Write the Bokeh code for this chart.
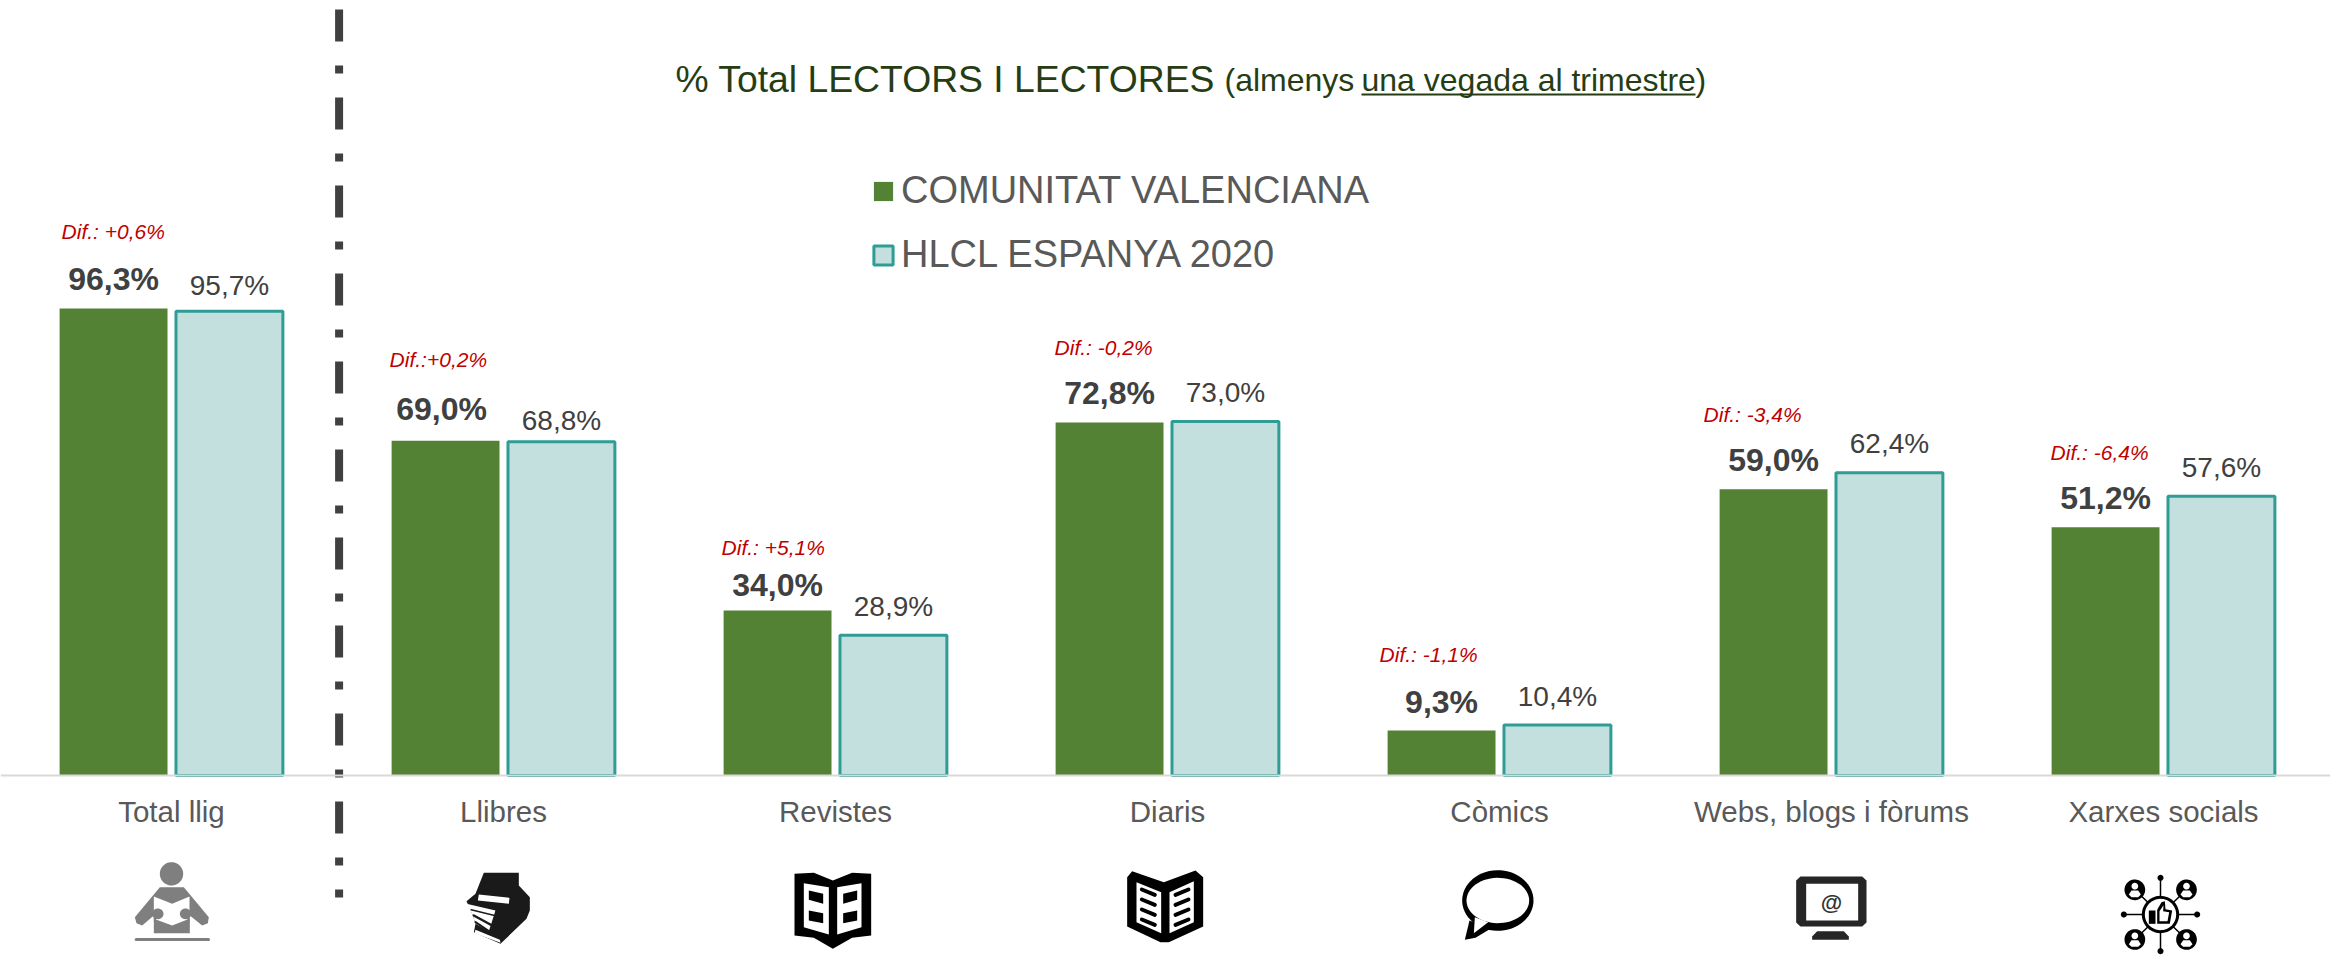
import numpy as np
from bokeh.core.properties import value
from bokeh.embed import file_html
from bokeh.models import ColumnDataSource, FixedTicker, Legend, LegendItem, Range1d
from bokeh.plotting import figure
from bokeh.resources import INLINE

categories = ["Total llig", "Llibres", "Revistes", "Diaris", "Còmics", "Webs, blogs i fòrums", "Xarxes socials"]
valencia = [96.3, 69.0, 34.0, 72.8, 9.3, 59.0, 51.2]
espanya = [95.7, 68.8, 28.9, 73.0, 10.4, 62.4, 57.6]
differences = ["Dif.: +0,6%", "Dif.:+0,2%", "Dif.: +5,1%", "Dif.: -0,2%", "Dif.: -1,1%", "Dif.: -3,4%", "Dif.: -6,4%"]
series_names = ["COMUNITAT VALENCIANA", "HLCL ESPANYA 2020"]
dif_lift = [76.5, 81.5, 63.5, 74.5, 75.5, 74.5, 74.5]
dif_shift = [0, -4, -4, -3, -10, -18, -3]
value_lift = [29, 32, 26, 29, 28, 29, 29]
value_shift = [0, -4, 0, 0, 0, 0, 0]
other_lift = [26, 21, 29, 29, 29, 29, 29]

FONT = value("Liberation Sans")
GREEN, PALE, TEAL = "#548235", "#C3E0DE", "#2F9C95"
GREY, DARK, TITLE = "#595959", "#404040", "#263D14"

PX_PER_CAT, PX_PER_UNIT, X0, Y0 = 332, 4.85, 5, 775
Xp = lambda px: (np.asarray(px, float) - X0) / PX_PER_CAT
Yp = lambda py: (Y0 - np.asarray(py, float)) / PX_PER_UNIT

p = figure(width=2330, height=958, output_backend="svg", toolbar_location=None,
           x_range=Range1d(float(Xp(0)), float(Xp(2330))), y_range=Range1d(float(Yp(958)), float(Yp(0))),
           min_border=0, outline_line_color=None, background_fill_color="white", border_fill_color="white")
p.grid.visible = False
p.yaxis.visible = False
ax = p.xaxis[0]
ax.fixed_location = 0
ax.ticker = FixedTicker(ticks=[i + 0.5 for i in range(7)])
ax.major_label_overrides = {i + 0.5: c for i, c in enumerate(categories)}
ax.major_tick_line_color = None
ax.minor_tick_line_color = None
ax.axis_line_color = "#D9D9D9"
ax.axis_line_width = 2
ax.major_label_text_font = "Liberation Sans"
ax.major_label_text_font_size = "29.5px"
ax.major_label_text_color = GREY
ax.major_label_standoff = 13

idx = np.arange(7) + 0.5
gx = idx - 0.1745
tx = idx + 0.1745
src = ColumnDataSource(dict(gx=gx, tx=tx, v=valencia, e=espanya, dif=differences,
                            lift=[-d for d in dif_lift], dshift=dif_shift,
                            vlift=[-d for d in value_lift], vshift=value_shift,
                            elift=[-d for d in other_lift],
                            vl=[f"{v:.1f}%".replace(".", ",") for v in valencia],
                            el=[f"{v:.1f}%".replace(".", ",") for v in espanya],
                            dx=gx - 0.1625 + 0.006))
r1 = p.vbar(x="gx", top="v", width=0.325, source=src, fill_color=GREEN, line_color=None)
r2 = p.vbar(x="tx", top="e", width=0.322, source=src, fill_color=PALE, line_color=TEAL, line_width=3)
p.text(x="gx", y="v", text="vl", source=src, x_offset="vshift", y_offset="vlift", text_align="center", text_baseline="alphabetic",
       text_font=FONT, text_font_size="32px", text_font_style="bold", text_color=DARK)
p.text(x="tx", y="e", text="el", source=src, y_offset="elift", text_align="center", text_baseline="alphabetic",
       text_font=FONT, text_font_size="28px", text_color=DARK)
p.text(x="dx", y="v", text="dif", source=src, x_offset="dshift", y_offset="lift", text_align="left", text_baseline="alphabetic",
       text_font=FONT, text_font_size="21px", text_font_style="italic", text_color="#C00000")

# separator
p.line(Xp([338.6, 338.6]), Yp([9, 897]), line_color=DARK, line_width=8, line_dash="32 24 8 24", line_cap="butt")

# title
def head(px, py, s, size):
    p.text(x=[float(Xp(px))], y=[float(Yp(py))], text=[s], text_font=FONT, text_font_size=size,
           text_baseline="alphabetic", text_color=TITLE)
head(675, 78, "% Total LECTORS I LECTORES", "37.3px")
head(1224, 79.5, "(almenys", "32px")
head(1361, 79.5, "una vegada al trimestre", "32px")
head(1695, 79.5, ")", "32px")
p.line(Xp([1361, 1695]), Yp([94, 94]), line_color=TITLE, line_width=2)

# legend
legend = Legend(items=[LegendItem(label=series_names[0], renderers=[r1]), LegendItem(label=series_names[1], renderers=[r2])],
                location=(871, 682), background_fill_alpha=0, border_line_color=None, padding=0, margin=0,
                glyph_width=24, glyph_height=24, label_standoff=6, spacing=21,
                label_text_font="Liberation Sans", label_text_font_size="38px", label_text_color=GREY)
p.add_layout(legend, "center")

# icons: outlines given in 1/3 px relative to an origin
def poly(ox, oy, pts, color):
    a = np.array(pts, float)
    p.patch(Xp(ox + a[:, 0] / 3), Yp(oy + a[:, 1] / 3), fill_color=color, line_color=None)

def oval(ox, oy, cx, cy, rx, ry, color):
    t = np.linspace(0, 2 * np.pi, 60)
    poly(ox, oy, np.c_[cx + rx * np.cos(t), cy + ry * np.sin(t)], color)

def stroke(ox, oy, a, b, w, color):
    p.line(Xp(ox + np.array([a[0], b[0]]) / 3), Yp(oy + np.array([a[1], b[1]]) / 3),
           line_color=color, line_width=w, line_cap="round")

# reader
o = (120, 850); c = "#7F7F7F"
oval(*o, 153, 70, 35, 35, c)
poly(*o, [(118,110),(190,110),(265,200),(262,218),(245,225),(208,195),(208,248),(100,248),(100,195),(65,225),(48,218),(43,200)], c)
poly(*o, [(100,138),(155,160),(207,138),(207,205),(155,225),(100,205)], "white")
oval(*o, 112, 190, 17, 16, c)
oval(*o, 195, 190, 17, 16, c)
poly(*o, [(100,190),(112,200),(100,215)], c)
poly(*o, [(207,190),(195,200),(207,215)], c)
stroke(*o, (47, 267), (264, 267), 3, c)

# books
o = (450, 860); c = "#1A1A1A"
poly(*o, [(100,37),(205,37),(205,75),(238,110),(238,150),(228,175),(150,250),(70,215),(75,190),(65,160),(48,122),(75,100)], c)
poly(*o, [(85,102),(177,112),(175,130),(82,120)], "white")
poly(*o, [(48,130),(135,150),(130,190),(115,212),(75,190),(65,160)], "white")
stroke(*o, (62, 148), (132, 165), 1.5, c)
stroke(*o, (70, 165), (125, 195), 2.5, c)
stroke(*o, (75, 185), (115, 212), 2, c)
poly(*o, [(135,150),(170,150),(170,230),(115,212)], c)
poly(*o, [(72,218),(150,247),(148,238),(75,208)], "white")

# magazine
o = (780, 860); c = "black"
poly(*o, [(42,40),(100,37),(157,60),(215,37),(272,40),(272,225),(215,232),(157,265),(100,232),(42,225)], c)
poly(*o, [(70,68),(145,80),(145,222),(70,200)], "white")
poly(*o, [(170,80),(243,68),(243,200),(170,222)], "white")
for q in ([(85,90),(128,100),(128,130),(85,118)], [(85,150),(128,158),(128,188),(85,180)],
          [(188,100),(230,90),(230,118),(188,130)], [(188,158),(230,150),(230,180),(188,188)]):
    poly(*o, q, c)

# newspaper
o = (1110, 860)
poly(*o, [(65,32),(160,65),(255,30),(278,50),(278,198),(175,245),(150,245),(50,198),(50,50)], c)
poly(*o, [(78,65),(152,95),(152,218),(78,185)], "white")
poly(*o, [(177,95),(250,62),(250,185),(177,218)], "white")
for k in range(4):
    stroke(*o, (94, 87 + 30 * k), (133, 103 + 30 * k), 4, c)
    stroke(*o, (195, 103 + 30 * k), (234, 87 + 30 * k), 4, c)

# speech bubble
o = (1445, 860)
oval(*o, 157, 120, 107, 91, c)
poly(*o, [(72,180),(58,238),(90,232),(135,205)], c)
oval(*o, 157, 120, 94, 68, "white")
poly(*o, [(88,170),(85,218),(128,185)], "white")

# monitor
o = (1775, 860); c = "#262626"
poly(*o, [(75,48),(260,48),(273,60),(273,186),(260,198),(75,198),(62,186),(62,60)], c)
poly(*o, [(92,70),(248,70),(248,180),(92,180)], "white")
poly(*o, [(125,212),(205,212),(220,228),(220,238),(110,238),(110,228)], c)
p.text(x=[float(Xp(1775 + 168 / 3))], y=[float(Yp(860 + 126 / 3))], text=["@"], text_align="center", text_baseline="middle",
       text_font=FONT, text_font_size="22px", text_font_style="bold", text_color="#333333")

# social network
o = (2105, 860); c = "black"
C = (165, 162)
for a, b in [((165,52),(165,275)), ((55,162),(275,162)), ((88,88),(243,237)), ((243,88),(88,237))]:
    stroke(*o, a, b, 1.5, c)
for d in [(165,52),(165,272),(55,162),(275,162)]:
    oval(*o, d[0], d[1], 9, 9, c)
oval(*o, C[0], C[1], 56, 56, c)
oval(*o, C[0], C[1], 47, 47, "white")
poly(*o, [(130,150),(150,150),(150,190),(130,190)], c)
poly(*o, [(155,148),(168,125),(178,122),(180,146),(200,150),(193,190),(155,190)], c)
poly(*o, [(162,152),(174,134),(173,152),(191,155),(186,182),(162,182)], "white")
for d in [(88,88),(243,88),(88,237),(243,237)]:
    oval(*o, d[0], d[1], 31, 31, c)
    oval(*o, d[0], d[1] - 11, 10, 10, "white")
    poly(*o, [(d[0]-18,d[1]+14),(d[0]-10,d[1]+2),(d[0]+10,d[1]+2),(d[0]+18,d[1]+14),(d[0]+10,d[1]+22),(d[0]-10,d[1]+22)], "white")

open("out.html", "w").write(file_html(p, INLINE))
